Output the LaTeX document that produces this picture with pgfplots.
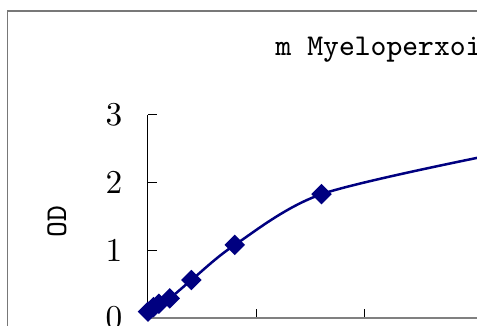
\documentclass[border=0pt]{standalone}
\usepackage{pgfplots}
\pgfplotsset{compat=1.18}
\definecolor{navyline}{RGB}{0,0,128}
\definecolor{framegray}{RGB}{120,120,120}
\definecolor{axisgray}{RGB}{128,128,128}

\begin{document}
\begin{tikzpicture}
% the reference is a crop of a larger chart: fix the window, cut everything to it
\useasboundingbox (0,0) rectangle (143.1pt,97.8pt);
\clip (0,0) rectangle (143.1pt,97.8pt);
\draw[framegray, line width=0.45pt] (2.25pt,-20pt) -- (2.25pt,94.5pt) -- (160pt,94.5pt);

\begin{axis}[
    at={(44.4pt,2.4pt)}, anchor=south west,
    x=1.6275pt, y=20.3pt,
    xmin=0, xmax=70,
    ymin=0, ymax=3,
    axis lines=left,
    axis line style={-},
    x axis line style={draw=axisgray, line width=0.6pt},
    y axis line style={draw=black, line width=0.3pt},
    tick align=inside,
    major tick length=2.8pt,
    tick style={black, line width=0.3pt},
    xtick={20,40},
    xticklabels={},
    ytick={0,1,2,3},
    yticklabel style={anchor=east, inner sep=0pt, xshift=-7.5pt,
        font=\fontsize{9.8}{12}\selectfont},
    clip=false,
]
    \addplot[navyline, line width=0.75pt, smooth, tension=0.5,
        mark=square*, mark size=1.8pt,
        mark options={rotate=45, fill=navyline, draw=navyline}]
        coordinates {
        (0,0.093) (1,0.16) (2,0.21) (4,0.29) (8,0.56)
        (16,1.08) (32,1.83) (64,2.42)
    };
\end{axis}

\node[anchor=base west, inner sep=0pt, font=\ttfamily\fontsize{9.05}{11}\selectfont]
    at (82.5pt,81.0pt) {m Myeloperxoi};
\node[rotate=90, inner sep=0pt, font=\ttfamily\fontsize{9.05}{11}\selectfont]
    at (17.1pt,31.2pt) {OD};
\end{tikzpicture}
\end{document}
